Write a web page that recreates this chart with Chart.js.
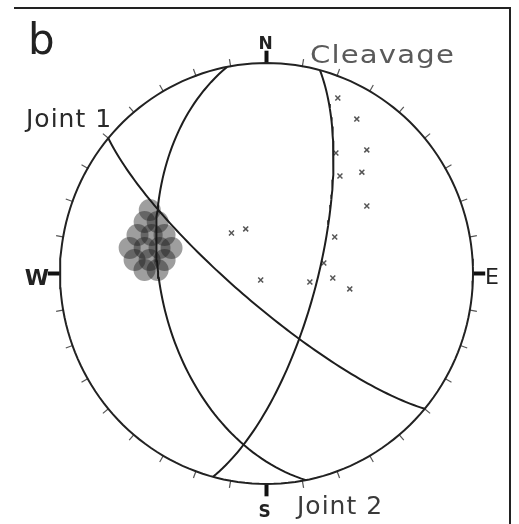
<!DOCTYPE html>
<html>
<head>
<meta charset="utf-8">
<script src="https://cdn.jsdelivr.net/npm/chart.js@4/dist/chart.umd.min.js"></script>
<style>
  html, body { margin: 0; padding: 0; background: #fff; }
  #wrap { width: 519px; height: 524px; }
</style>
</head>
<body>
<div id="wrap"><canvas id="net" width="519" height="524"></canvas></div>
<script>
// planes (lower hemisphere, equal area net)
var planeNames = ['Joint 1', 'Cleavage', 'Joint 2'];
var planeDipDir = [220, 105, 259];
var planeDip = [78, 70, 47];

// scattered poles
var poleTrend = [22.5, 30.8, 39.6, 43.8, 56.6, 30.4, 37.5, 62.3, 318.6, 334.6, 222, 79.8, 100.9, 93.8, 100.3];
var polePlunge = [10.7, 15.7, 24.8, 33.7, 41.4, 34.0, 41.2, 59.4, 69.1, 70.9, 86.6, 67.0, 72.6, 63.7, 56.3];

// dense pole cluster (west side)
var clusterTrend = [298.1, 292.5, 294.9, 286.3, 288.2, 290.3, 280.4, 281.6, 283.2, 284.8, 275.7, 276.5, 277.4, 271.6, 271.8];
var clusterPlunge = [36.1, 36.3, 41.5, 35.2, 41.1, 46.3, 33.1, 39.6, 45.8, 50.7, 36.0, 42.5, 48.8, 40.6, 46.2];

var cardinalLabels = ['N', 'E', 'S', 'W'];
var cardinalAz = [0, 90, 180, 270];

var DEG = Math.PI / 180;

function project(trend, plunge) {
    var r = Math.SQRT2 * Math.sin((90 - plunge) / 2 * DEG);
    return {x: r * Math.sin(trend * DEG), y: r * Math.cos(trend * DEG)};
}

function greatCircle(dd, dip) {
    var str = (dd - 90) * DEG, d = dd * DEG, k = dip * DEG;
    var pts = [];
    for (var t = 0; t <= 180; t += 2) {
        var c = Math.cos(t * DEG), s = Math.sin(t * DEG);
        var e = c * Math.sin(str) + s * Math.sin(d) * Math.cos(k);
        var n = c * Math.cos(str) + s * Math.cos(d) * Math.cos(k);
        var z = s * Math.sin(k);
        var pl = Math.asin(Math.min(1, z)) / DEG;
        var tr = Math.atan2(e, n) / DEG;
        pts.push(project(tr, pl));
    }
    return pts;
}

var primitive = [];
for (var a = 0; a <= 360; a += 2) {
    primitive.push({x: Math.sin(a * DEG), y: Math.cos(a * DEG)});
}

var ticks = [];
for (var a = 10; a < 360; a += 10) {
    if (a % 90 === 0) continue;
    ticks.push({x: 1.015 * Math.sin(a * DEG), y: 1.015 * Math.cos(a * DEG), az: a});
}

var marks = cardinalAz.map(function(a) {
    return {x: 1.03 * Math.sin(a * DEG), y: 1.03 * Math.cos(a * DEG), az: a};
});

var datasets = [];
datasets.push({
    label: 'cluster',
    data: clusterTrend.map(function(t, i) { return project(t, clusterPlunge[i]); }),
    pointRadius: 11,
    pointBackgroundColor: 'rgba(25,25,25,0.42)',
    pointBorderWidth: 0,
    showLine: false
});
datasets.push({
    label: 'primitive',
    data: primitive,
    showLine: true,
    borderColor: '#222',
    borderWidth: 2,
    pointRadius: 0
});
planeNames.forEach(function(name, i) {
    datasets.push({
        label: name,
        data: greatCircle(planeDipDir[i], planeDip[i]),
        showLine: true,
        borderColor: '#1e1e1e',
        borderWidth: 2,
        pointRadius: 0
    });
});
datasets.push({
    label: 'poles',
    data: poleTrend.map(function(t, i) { return project(t, polePlunge[i]); }),
    pointStyle: 'crossRot',
    pointRadius: 3.5,
    borderColor: '#555',
    pointBorderWidth: 1.5,
    showLine: false
});
datasets.push({
    label: 'ticks',
    data: ticks,
    pointStyle: 'line',
    pointRadius: 4,
    borderColor: '#555',
    pointBorderWidth: 1.2,
    pointRotation: function(ctx) { return ctx.raw ? ctx.raw.az - 90 : 0; },
    showLine: false
});
datasets.push({
    label: 'cardinal',
    data: marks,
    pointStyle: 'line',
    pointRadius: 6,
    borderColor: '#111',
    pointBorderWidth: 4,
    pointRotation: function(ctx) { return ctx.raw ? ctx.raw.az - 90 : 0; },
    showLine: false
});

var labelPlugin = {
    id: 'netLabels',
    afterDraw: function(chart) {
        var c = chart.ctx, sx = chart.scales.x, sy = chart.scales.y;
        function px(v) { return sx.getPixelForValue(v); }
        function py(v) { return sy.getPixelForValue(v); }
        c.save();
        // frame
        c.strokeStyle = '#222';
        c.lineWidth = 2;
        c.beginPath();
        c.moveTo(14, 8); c.lineTo(510, 8); c.lineTo(510, 524);
        c.stroke();

        c.fillStyle = '#222';
        c.textBaseline = 'alphabetic';
        c.textAlign = 'left';
        c.font = '42px "DejaVu Sans"';
        c.fillText('b', 28, 54);

        c.textAlign = 'center';
        c.font = 'bold 17px "DejaVu Sans"';
        c.fillText(cardinalLabels[0], px(0) - 1, py(1.0) - 14);
        c.fillText(cardinalLabels[2], px(0) - 2, py(-1.0) + 33);
        c.font = '22px "DejaVu Sans"';
        c.fillText(cardinalLabels[1], px(1.0) + 19, py(0.0) + 10);
        c.font = 'bold 22px "DejaVu Sans"';
        c.fillText(cardinalLabels[3], px(-1.0) - 23, py(0.0) + 11);

        c.font = '25px "DejaVu Sans"';
        if ('letterSpacing' in c) c.letterSpacing = '1px';
        c.textAlign = 'left';
        c.fillStyle = '#2a2a2a';
        c.fillText(planeNames[0], 26, 127);
        c.fillStyle = '#3a3a3a';
        c.fillText(planeNames[2], 297, 514);
        // cleavage label is set wide in the original
        var w = c.measureText(planeNames[1]).width;
        c.translate(310, 63);
        c.scale(145 / w, 1);
        c.fillStyle = '#5a5a5a';
        c.fillText(planeNames[1], 0, 0);
        c.restore();
    }
};

new Chart(document.getElementById('net'), {
    type: 'scatter',
    data: {datasets: datasets},
    options: {
        responsive: false,
        animation: false,
        layout: {padding: {left: 60, right: 46, top: 63, bottom: 40}},
        datasets: {scatter: {clip: false}},
        scales: {
            x: {type: 'linear', min: -1, max: 1, display: false},
            y: {type: 'linear', min: -1, max: 1, display: false}
        },
        plugins: {
            legend: {display: false},
            tooltip: {enabled: false}
        }
    },
    plugins: [labelPlugin]
});
</script>
</body>
</html>
